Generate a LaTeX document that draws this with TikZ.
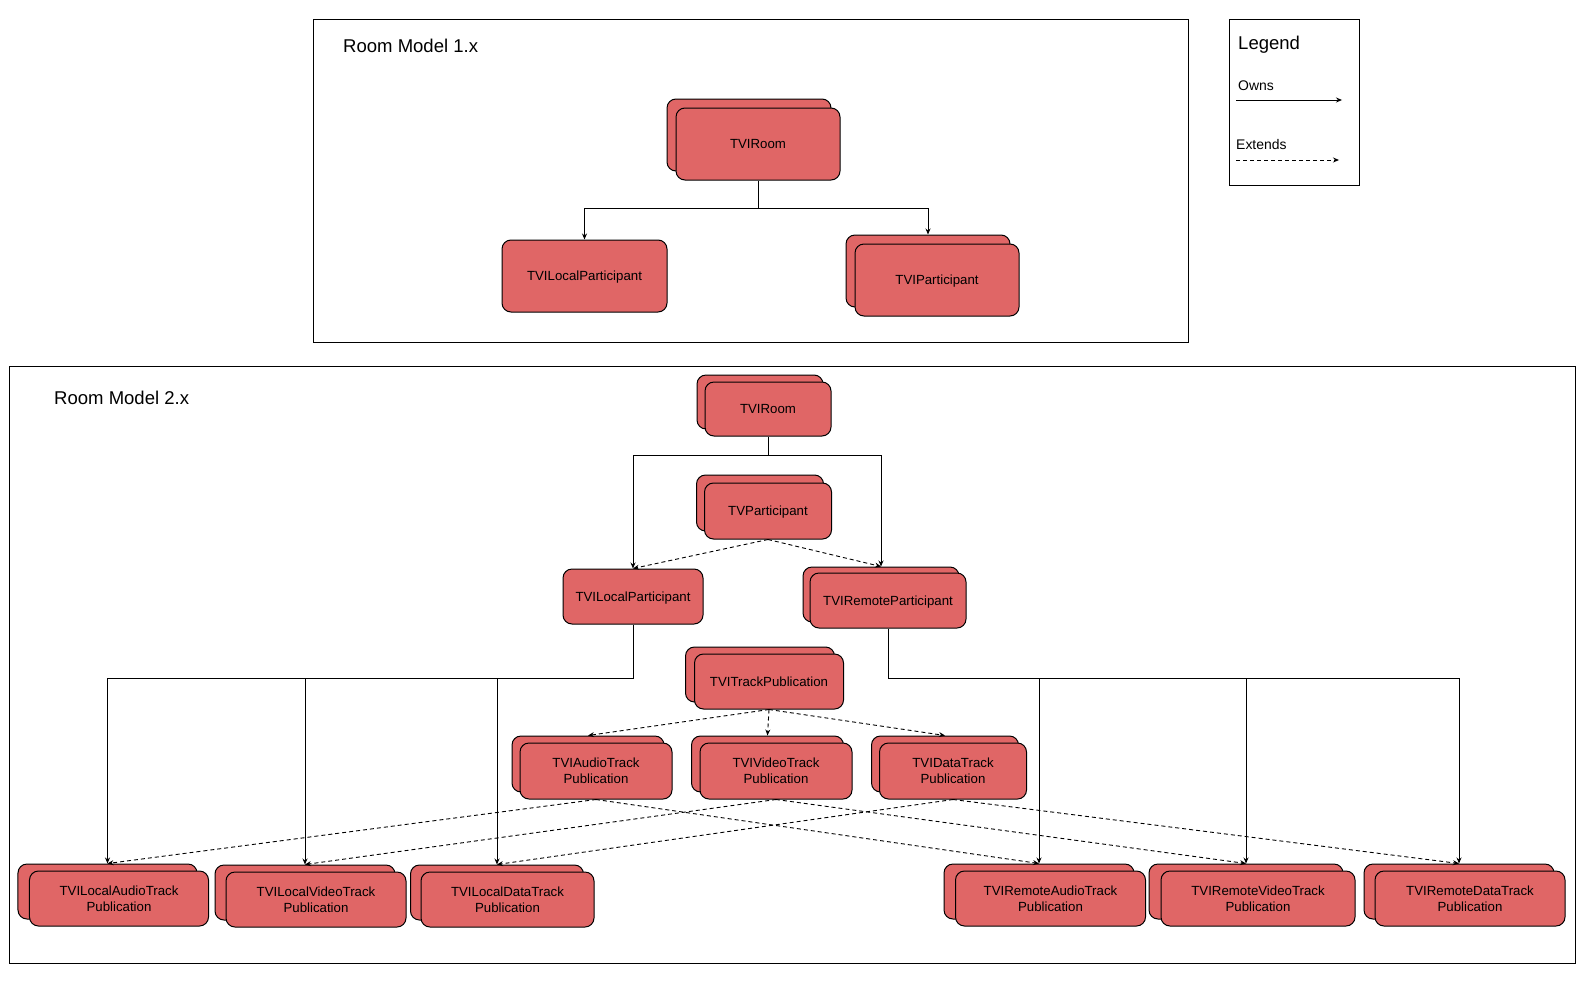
\documentclass[tikz,border=0pt]{standalone}
\usepackage{fontspec}
\setmainfont{Liberation Sans}
\usetikzlibrary{arrows.meta}
\definecolor{boxred}{HTML}{E06666}
\begin{document}
\begin{tikzpicture}[x=1bp,y=-1bp,
  box/.style 2 args={draw=black, fill=boxred, rounded corners=9bp, line width=1bp, inner sep=0pt,
     minimum width=#1bp, minimum height=#2bp, font=\fontsize{13.3}{16.2}\selectfont, align=center},
  one/.style={text height=9.6bp, text depth=0bp},
  frame/.style={draw=black, line width=1bp},
  owns/.style={-{Stealth[length=6bp,width=5bp]}, line width=0.9bp},
  ext/.style={owns, dash pattern=on 4bp off 3bp},
  title/.style={anchor=base west, font=\fontsize{18.6}{21}\selectfont, inner sep=0pt},
  lgd/.style={anchor=base west, font=\fontsize{14}{16}\selectfont, inner sep=0pt}
]
\useasboundingbox (0,0) rectangle (1590,980);
\fill[white] (0,0) rectangle (1590,980);

% frames
\draw[frame] (313,19) rectangle (1188,342);
\draw[frame] (1229,19) rectangle (1359,185);
\draw[frame] (9,366) rectangle (1575,963);

% titles and legend
\node[title] (t1) at (343,52) {Room Model 1.x};
\node[title] (t2) at (54,404) {Room Model 2.x};
\node[title] (lg) at (1238,49) {Legend};
\node[lgd] (lown) at (1238,90) {Owns};
\node[lgd] (lext) at (1236,149) {Extends};
\coordinate (o1) at (1236,100);
\coordinate (o2) at (1342,100);
\coordinate (e1) at (1236,160);
\coordinate (e2) at (1339,160);
\draw[owns] (o1) -- (o2);
\draw[ext] (e1) -- (e2);

% ---------- Room Model 1.x ----------
\node[box={164}{72}] (roomAb) at (749,135) {};
\node[box={164}{72}, one] (roomAf) at (758,144) {TVIRoom};
\node[box={165}{72}, one] (localA) at (584.5,276) {TVILocalParticipant};
\node[box={164}{72}] (partAb) at (928,271) {};
\node[box={164}{72}, one] (partAf) at (937,280) {TVIParticipant};

\draw[owns] (roomAf.south) -- ++(0,28) coordinate (ja) -| (localA.north);
\draw[owns] (ja) -| (partAb.north);

% ---------- Room Model 2.x ----------
\node[box={126}{54}] (roomBb) at (760,402) {};
\node[box={126}{54}, one] (roomBf) at (768,409) {TVIRoom};
\node[box={127}{56}] (tvpb) at (760,503) {};
\node[box={127}{56}, one] (tvpf) at (768,511) {TVParticipant};
\node[box={140}{55}, one] (localB) at (633,596.5) {TVILocalParticipant};
\node[box={156}{55}] (remb) at (881,594.5) {};
\node[box={156}{55}, one] (remf) at (888,600.5) {TVIRemoteParticipant};

\draw[owns] (roomBf.south) -- ++(0,19) coordinate (jb) -| (localB.north);
\draw[owns] (jb) -| (remb.north);
\draw[ext] (tvpf.south) -- (localB.north);
\draw[ext] (tvpf.south) -- (remb.north);

\node[box={149}{55}] (trkb) at (760,674.5) {};
\node[box={149}{55}, one] (trkf) at (769,681.5) {TVITrackPublication};

\node[box={152}{56}] (apb) at (588,764) {};
\node[box={152}{56}] (apf) at (596,771) {TVIAudioTrack\\Publication};
\node[box={152}{56}] (vpb) at (767.5,764) {};
\node[box={152}{56}] (vpf) at (776,771) {TVIVideoTrack\\Publication};
\node[box={147}{56}] (dpb) at (945,764) {};
\node[box={147}{56}] (dpf) at (953,771) {TVIDataTrack\\Publication};

\draw[ext] (trkf.south) -- (apb.north);
\draw[ext] (trkf.south) -- (vpb.north);
\draw[ext] (trkf.south) -- (dpb.north);

% bottom row
\node[box={179}{55}] (lab) at (107.5,891.5) {};
\node[box={179}{55}] (laf) at (119,898.5) {TVILocalAudioTrack\\Publication};
\node[box={180}{55}] (lvb) at (305,892.5) {};
\node[box={180}{55}] (lvf) at (316,899.5) {TVILocalVideoTrack\\Publication};
\node[box={173}{55}] (ldb) at (497,892.5) {};
\node[box={173}{55}] (ldf) at (507.5,899.5) {TVILocalDataTrack\\Publication};
\node[box={190}{55}] (rab) at (1039,891.5) {};
\node[box={190}{55}] (raf) at (1050.5,898.5) {TVIRemoteAudioTrack\\Publication};
\node[box={194}{55}] (rvb) at (1246,891.5) {};
\node[box={194}{55}] (rvf) at (1258,898.5) {TVIRemoteVideoTrack\\Publication};
\node[box={190}{55}] (rdb) at (1459,891.5) {};
\node[box={190}{55}] (rdf) at (1470,898.5) {TVIRemoteDataTrack\\Publication};

\draw[owns] (localB.south) -- ++(0,53.5) coordinate (jl) -| (lab.north);
\draw[owns] (jl) -| (lvb.north);
\draw[owns] (jl) -| (ldb.north);
\draw[owns] (remf.south) -- ++(0,49.5) coordinate (jr) -| (rdb.north);
\draw[owns] (jr) -| (rvb.north);
\draw[owns] (jr) -| (rab.north);

\draw[ext] (apf.south) -- (lab.north);
\draw[ext] (apf.south) -- (rab.north);
\draw[ext] (vpf.south) -- (lvb.north);
\draw[ext] (vpf.south) -- (rvb.north);
\draw[ext] (dpf.south) -- (ldb.north);
\draw[ext] (dpf.south) -- (rdb.north);
\end{tikzpicture}
\end{document}
